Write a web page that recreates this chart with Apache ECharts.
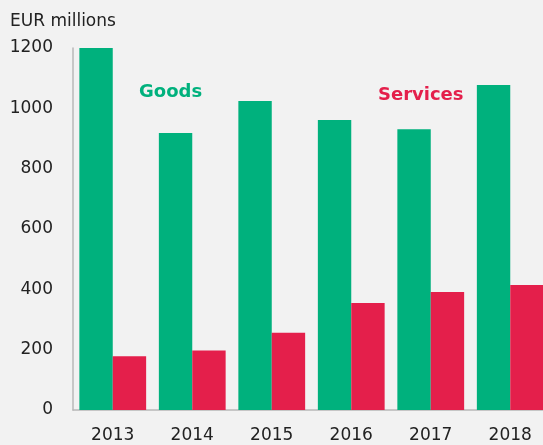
<!DOCTYPE html>
<html>
<head>
<meta charset="utf-8">
<script src="https://cdn.jsdelivr.net/npm/echarts@6/dist/echarts.min.js"></script>
<style>
  html, body { margin: 0; padding: 0; background: #f2f2f2; }
  #main { width: 543px; height: 445px; }
</style>
</head>
<body>
<div id="main"></div>
<script>
// 年份
var years = ['2013', '2014', '2015', '2016', '2017', '2018']
// 货物 / 服务 (EUR millions)
var goods = [1203, 918, 1024, 961, 931, 1077]
var services = [178, 197, 256, 355, 391, 414]
var yTicks = { min: 0, max: 1200, step: 200 }

var green = '#00b17d'
var red = '#e41f4b'

var chart = echarts.init(document.getElementById('main'))

var option = {
  backgroundColor: '#f2f2f2',
  animation: false,
  textStyle: { fontFamily: 'DejaVu Sans' },
  title: {
    text: 'EUR millions',
    left: 5,
    top: 8,
    textStyle: { fontSize: 17, fontWeight: 'normal', color: '#222' }
  },
  legend: [
    {
      data: [{ name: 'Goods', textStyle: { color: green } }],
      left: 129,
      top: 78,
      icon: 'none',
      itemWidth: 0,
      textStyle: { fontSize: 18, fontWeight: 'bold' }
    },
    {
      data: [{ name: 'Services', textStyle: { color: red } }],
      left: 368,
      top: 81,
      icon: 'none',
      itemWidth: 0,
      textStyle: { fontSize: 18, fontWeight: 'bold' }
    }
  ],
  grid: {
    left: 73,
    width: 477,
    top: 48,
    bottom: 35,
    containLabel: false,
    outerBoundsMode: 'none'
  },
  xAxis: {
    type: 'category',
    data: years,
    axisTick: { show: false },
    axisLine: { lineStyle: { color: '#b8b8b8', width: 1.5 } },
    axisLabel: { color: '#222', fontSize: 17, margin: 17 },
    splitLine: { show: false }
  },
  yAxis: {
    type: 'value',
    min: yTicks.min,
    max: yTicks.max,
    interval: yTicks.step,
    axisTick: { show: false },
    axisLine: { show: true, lineStyle: { color: '#b8b8b8', width: 1.5 } },
    axisLabel: {
      color: '#222',
      fontSize: 17,
      margin: 20,
      formatter: function (v) { return String(v) }
    },
    splitLine: { show: false }
  },
  series: [
    {
      name: 'Goods',
      type: 'bar',
      data: goods,
      itemStyle: { color: green },
      barGap: '0%',
      barCategoryGap: '16%'
    },
    {
      name: 'Services',
      type: 'bar',
      data: services,
      itemStyle: { color: red },
      barGap: '0%',
      barCategoryGap: '16%'
    }
  ]
}

chart.setOption(option, true)
</script>
</body>
</html>
